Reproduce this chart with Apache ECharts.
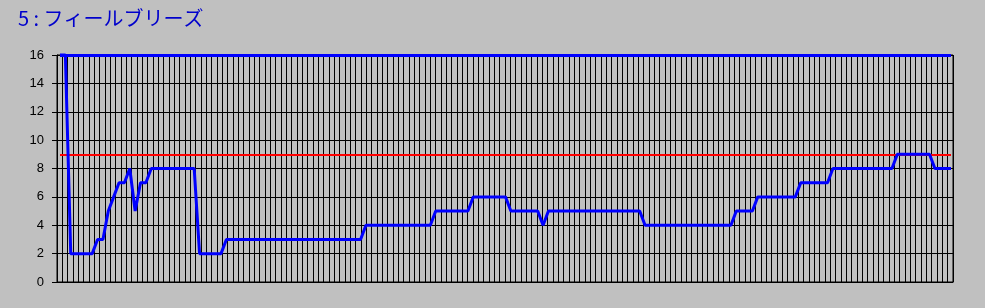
<!DOCTYPE html>
<html>
<head>
<meta charset="utf-8">
<script src="https://cdn.jsdelivr.net/npm/echarts@6/dist/echarts.min.js"></script>
<style>
html,body{margin:0;padding:0;background:#C0C0C0;}
#chart{width:985px;height:308px;}
</style>
</head>
<body>
<div id="chart"></div>
<script>
// ---- data ----
const titleText = '5 : フィールブリーズ';
const yTicks = [0, 2, 4, 6, 8, 10, 12, 14, 16];
const gridColumns = 168;          // vertical grid bands
const fieldSize = 16;             // top blue line
const refLevel = 9;               // red line
// position at each checkpoint (167 points)
const positions = [
  16, 16,
  2, 2, 2, 2, 2,
  3, 3,
  5, 6,
  7, 7,
  8,
  5,
  7, 7,
  8, 8, 8, 8, 8, 8, 8, 8, 8,
  2, 2, 2, 2, 2,
  3, 3, 3, 3, 3, 3, 3, 3, 3, 3, 3, 3, 3, 3, 3, 3, 3, 3, 3, 3, 3, 3, 3, 3, 3, 3,
  4, 4, 4, 4, 4, 4, 4, 4, 4, 4, 4, 4, 4,
  5, 5, 5, 5, 5, 5, 5,
  6, 6, 6, 6, 6, 6, 6,
  5, 5, 5, 5, 5, 5,
  4,
  5, 5, 5, 5, 5, 5, 5, 5, 5, 5, 5, 5, 5, 5, 5, 5, 5, 5,
  4, 4, 4, 4, 4, 4, 4, 4, 4, 4, 4, 4, 4, 4, 4, 4, 4,
  5, 5, 5, 5,
  6, 6, 6, 6, 6, 6, 6, 6,
  7, 7, 7, 7, 7, 7,
  8, 8, 8, 8, 8, 8, 8, 8, 8, 8, 8, 8,
  9, 9, 9, 9, 9, 9, 9,
  8, 8, 8, 8
];
const gridCats = Array.from({length: gridColumns}, (_, i) => String(i));
const pointCats = positions.map((_, i) => String(i));

const chart = echarts.init(document.getElementById('chart'), null, {renderer: 'canvas'});
chart.setOption({
  animation: false,
  backgroundColor: '#C0C0C0',
  title: {
    text: titleText,
    left: 13,
    top: 3,
    textStyle: {color: '#0000CC', fontSize: 20, fontWeight: 'normal', fontFamily: 'Noto Sans CJK JP'}
  },
  grid: [
    {left: 57, right: 32, top: 55, bottom: 26, show: true, borderColor: '#000', borderWidth: 1, backgroundColor: 'transparent'},
    {left: 60, right: 34, top: 55, bottom: 26}
  ],
  xAxis: [
    {
      type: 'category', gridIndex: 0, data: gridCats, boundaryGap: true,
      axisLine: {show: true, lineStyle: {color: '#000', width: 1}},
      axisTick: {show: false},
      axisLabel: {show: false},
      splitLine: {show: true, interval: 0, lineStyle: {color: '#000', width: 1}}
    },
    {
      type: 'category', gridIndex: 1, data: pointCats, boundaryGap: false,
      show: false
    }
  ],
  yAxis: [
    {
      type: 'value', gridIndex: 0, min: 0, max: 16, interval: 2,
      axisLine: {show: true, lineStyle: {color: '#000', width: 1}},
      axisTick: {show: true, length: 5, lineStyle: {color: '#000'}},
      axisLabel: {
        color: '#000', fontSize: 13, margin: 13, fontFamily: 'Liberation Sans',
        formatter: v => yTicks.includes(v) ? String(v) : ''
      },
      splitLine: {show: true, lineStyle: {color: '#000', width: 1}}
    },
    {type: 'value', gridIndex: 1, min: 0, max: 16, show: false}
  ],
  series: [
    {
      type: 'line', xAxisIndex: 1, yAxisIndex: 1,
      data: positions,
      symbol: 'none', clip: false, z: 5,
      lineStyle: {color: '#0000FF', width: 3},
      markLine: {
        silent: true, symbol: 'none', label: {show: false},
        data: [
          {yAxis: refLevel, lineStyle: {color: '#FF0000', width: 2, type: 'solid'}},
          {yAxis: fieldSize, lineStyle: {color: '#0000FF', width: 3, type: 'solid'}}
        ]
      }
    }
  ]
});
</script>
</body>
</html>
